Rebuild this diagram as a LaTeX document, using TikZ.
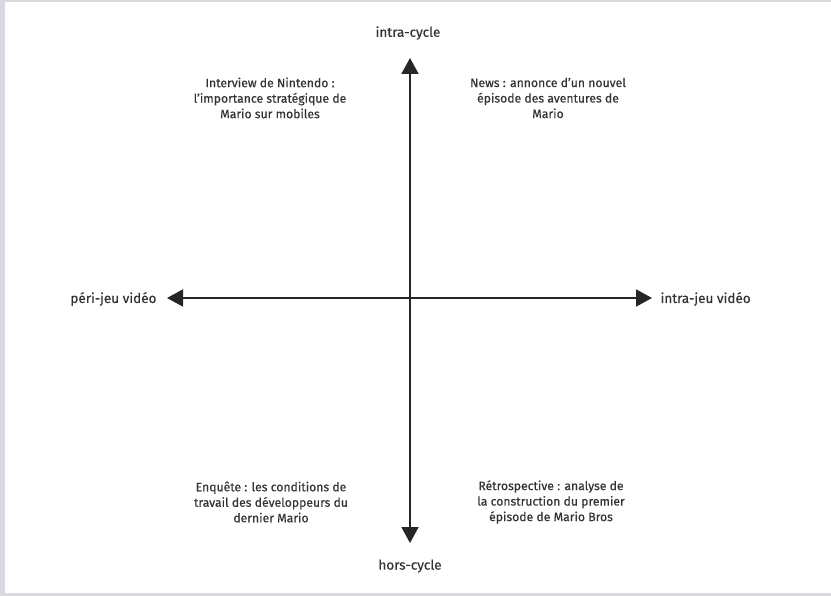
\documentclass[tikz,border=0pt]{standalone}
\usepackage{fontspec}
\setmainfont{Fira Sans}[FakeBold=0.4]
\usetikzlibrary{arrows.meta, positioning}

\definecolor{framegray}{HTML}{D9DADF}
\definecolor{inkgray}{HTML}{333333}

\begin{document}
\begin{tikzpicture}[
    x=1pt, y=-1pt,
    axis/.style={{Triangle[width=17pt,length=16pt]}-{Triangle[width=17pt,length=16pt]}, line width=1.8pt, black!85},
    pole/.style={font=\fontsize{13.5}{15}\selectfont, text=inkgray},
    quad/.style={align=center, font=\fontsize{12.2}{15.5}\selectfont, text=inkgray, fill=white, inner sep=4pt}
]

% cadre
\fill[framegray] (0,0) rectangle (831,596);
\fill[white] (4.5,2.5) rectangle (831,593);
\useasboundingbox (0,0) rectangle (831,596);

% poles
\node[pole] (haut) at (408,33) {intra-cycle};
\node[pole] (bas) at (410,566) {hors-cycle};
\node[pole, anchor=east] (gauche) at (160,299) {péri-jeu vidéo};
\node[pole, anchor=west] (droite) at (657,299) {intra-jeu vidéo};

% axes
\coordinate (nord) at (410,58);
\coordinate (sud) at (410,543);
\coordinate (ouest) at (167,298);
\coordinate (est) at (652,298);
\draw[axis] (sud) -- (nord);
\draw[axis] (ouest) -- (est);

% quadrants
\node[quad] (hg) at (270,98) {Interview de Nintendo :\\l'importance stratégique de\\Mario sur mobiles};
\node[quad] (hd) at (548,98) {News : annonce d'un nouvel\\épisode des aventures de\\Mario};
\node[quad] (bg) at (271,502) {Enquête : les conditions de\\travail des développeurs du\\dernier Mario};
\node[quad] (bd) at (551,502) {Rétrospective : analyse de\\la construction du premier\\épisode de Mario Bros};

\end{tikzpicture}
\end{document}
